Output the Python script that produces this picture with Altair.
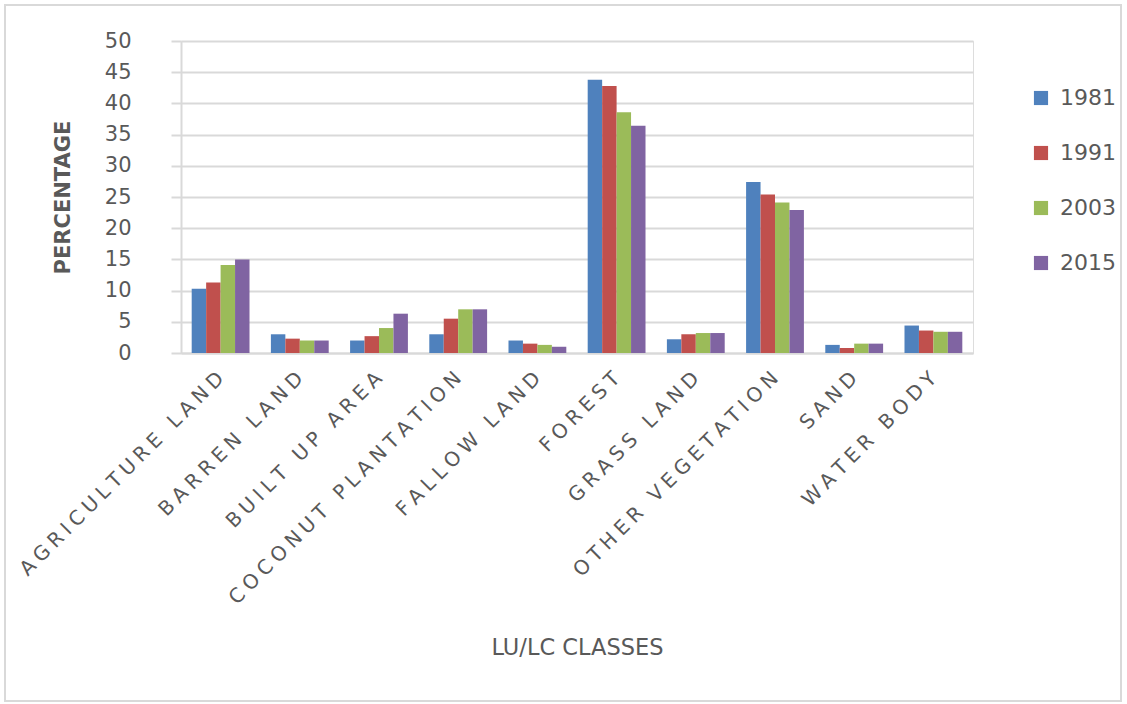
import altair as alt
import pandas as pd

# LU/LC class shares (%) for each survey year
classes = [
    "AGRICULTURE LAND", "BARREN LAND", "BUILT UP AREA", "COCONUT PLANTATION",
    "FALLOW LAND", "FOREST", "GRASS LAND", "OTHER VEGETATION", "SAND", "WATER BODY",
]
years = ["1981", "1991", "2003", "2015"]
y1981 = [10.3, 3.0, 2.0, 3.0, 2.0, 43.8, 2.2, 27.4, 1.3, 4.4]
y1991 = [11.3, 2.3, 2.7, 5.5, 1.5, 42.8, 3.0, 25.4, 0.8, 3.6]
y2003 = [14.1, 2.0, 4.0, 7.0, 1.3, 38.6, 3.2, 24.1, 1.5, 3.4]
y2015 = [15.0, 2.0, 6.3, 7.0, 1.0, 36.4, 3.2, 22.9, 1.5, 3.4]
colors = ["#4F81BD", "#C0504D", "#9BBB59", "#8064A2"]

series = dict(zip(years, [y1981, y1991, y2003, y2015]))
rows = []
for yr, vals in series.items():
    for c, v in zip(classes, vals):
        rows.append({"cls": c, "year": yr, "pct": v})
df = pd.DataFrame(rows)

FONT = "DejaVu Sans"
GREY = "#595959"
GRID = "#d9d9d9"

bars = alt.Chart(df).mark_bar().encode(
    x=alt.X(
        "cls:N",
        sort=classes,
        scale=alt.Scale(paddingInner=0.27, paddingOuter=0.135),
        axis=alt.Axis(
            title="LU/LC CLASSES",
            titleFont=FONT,
            titleFontSize=22.5,
            titleFontWeight="normal",
            titleColor=GREY,
            titleX=396,
            titleY=294,
            titleAlign="center",
            titleBaseline="middle",
            labelAngle=-45,
            labelAlign="right",
            labelBaseline="middle",
            labelFont=FONT,
            labelFontSize=20,
            labelColor=GREY,
            labelPadding=22,
            labelLimit=600,
            labelOverlap=False,
            # spaced capitals along the slanted category labels
            labelExpr="join(split(datum.label, ''), '\u2005')",
            ticks=False,
            domainColor=GRID,
            domainWidth=2,
            grid=False,
        ),
    ),
    xOffset=alt.XOffset("year:N", sort=years, scale=alt.Scale(paddingInner=0, paddingOuter=0)),
    y=alt.Y(
        "pct:Q",
        scale=alt.Scale(domain=[0, 50], nice=False),
        axis=alt.Axis(
            title="PERCENTAGE",
            titleFont=FONT,
            titleFontSize=21,
            titleFontWeight="bold",
            titleColor=GREY,
            titleAngle=-90,
            titleX=-118,
            titleY=156,
            titleAlign="center",
            titleBaseline="middle",
            values=list(range(0, 51, 5)),
            labelFont=FONT,
            labelFontSize=21,
            labelColor=GREY,
            labelPadding=40,
            tickSize=10,
            tickColor=GRID,
            tickWidth=2,
            domainColor=GRID,
            domainWidth=2,
            gridColor=GRID,
            gridWidth=2,
        ),
    ),
    color=alt.Color(
        "year:N",
        sort=years,
        scale=alt.Scale(domain=years, range=colors),
        legend=alt.Legend(
            title=None,
            orient="none",
            legendX=849,
            legendY=46,
            symbolType="square",
            symbolSize=200,
            symbolStrokeWidth=0,
            labelFont=FONT,
            labelFontSize=22,
            labelColor=GREY,
            labelOffset=8,
            rowPadding=33,
        ),
    ),
)

# light frame around the whole figure
frame = alt.Chart(pd.DataFrame({"k": [0]})).mark_rect(
    fill=None, stroke=GRID, strokeWidth=2
).encode(
    x=alt.value(-176), x2=alt.value(940), y=alt.value(-36), y2=alt.value(660)
)

chart = alt.layer(bars, frame).properties(
    width=792,
    height=312,
    autosize=alt.AutoSizeParams(type="none"),
    padding={"left": 181, "top": 41, "right": 154, "bottom": 351},
).configure_view(stroke=None).configure(background="white")

chart.save("out.html", embed_options={"renderer": "svg", "actions": False})
